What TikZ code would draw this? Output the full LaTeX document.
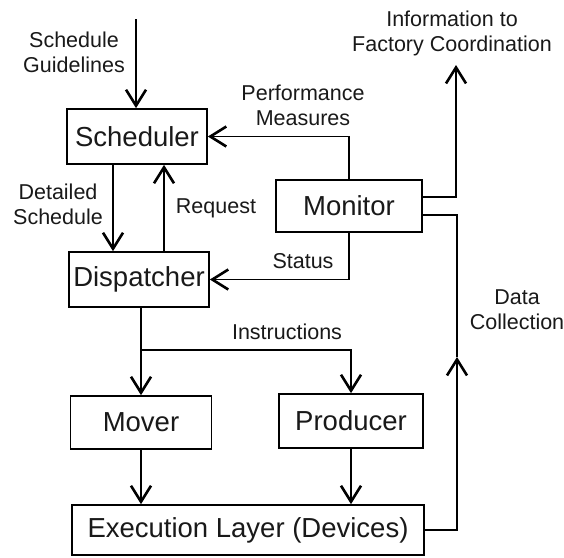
\documentclass[tikz,border=0pt]{standalone}
\usepackage{fontspec}
\setmainfont{Liberation Sans}
\usetikzlibrary{arrows.meta}
\begin{document}
\begin{tikzpicture}[x=1pt,y=-1pt,
  box/.style={draw, line width=1.7pt, inner sep=0pt, anchor=center,
    font=\fontsize{27.5}{30}\selectfont, text=black!90},
  lbl/.style={align=center, inner sep=0pt,
    font=\fontsize{21.5}{25}\selectfont, text=black!90},
  link/.style={line width=1.8pt, line join=miter},
  arr/.style={link, -{Straight Barb[length=16pt,width=20pt,line width=2.6pt]}}]
  \useasboundingbox[fill=white] (0,0) rectangle (564,557);

  % control blocks
  \node[box, minimum width=140pt, minimum height=55pt] (sched) at (137,136.5) {Scheduler};
  \node[box, minimum width=140pt, minimum height=55pt] (disp) at (139,279.5) {Dispatcher};
  \node[box, minimum width=146pt, minimum height=52pt] (mon) at (349,206) {Monitor};
  \node[box, minimum width=141pt, minimum height=53pt] (mover) at (141,422.5) {Mover};
  \node[box, minimum width=144pt, minimum height=54pt] (prod) at (351,421) {Producer};
  \node[box, minimum width=352pt, minimum height=50pt] (exec) at (248,530) {Execution Layer (Devices)};

  % labels
  \node[lbl] (lguide) at (74,52.5) {Schedule\\Guidelines};
  \node[lbl] (lperf) at (303,105) {Performance\\Measures};
  \node[lbl] (ldet) at (58,204.5) {Detailed\\Schedule};
  \node[lbl] (lreq) at (216,208) {Request};
  \node[lbl] (lstat) at (303,261) {Status};
  \node[lbl] (linstr) at (287,332) {Instructions};
  \node[lbl] (ldata) at (517,309.5) {Data\\Collection};
  \node[lbl] (linfo) at (452,33.5) {Information to\\Factory Coordination};

  % free ends and junctions
  \coordinate (guidetop) at (136,19);
  \coordinate (infotip) at (456,65);
  \coordinate (branch) at (141,350);
  \coordinate (dctip) at (457,357);

  % connectors
  \draw[arr] (guidetop) -- (guidetop |- sched.north);
  \draw[arr] (mon.north) |- (sched.east);
  \draw[arr] ([xshift=-24pt]sched.south) -- ([xshift=-24pt]sched.south |- disp.north);
  \draw[arr] ([xshift=27pt]sched.south |- disp.north) -- ([xshift=27pt]sched.south);
  \draw[arr] (mon.south) |- (disp.east);
  \draw[link] (branch |- disp.south) -- (branch);
  \draw[arr] (branch) -- (mover.north);
  \draw[arr] (branch) -| (prod.north);
  \draw[arr] (mover.south) -- (mover.south |- exec.north);
  \draw[arr] (prod.south) -- (prod.south |- exec.north);
  \draw[arr] ([yshift=9pt]mon.east) -| (infotip);
  \draw[arr] (exec.east) -| (dctip);
  \draw[link] (dctip) |- ([yshift=-9pt]mon.east);
\end{tikzpicture}
\end{document}
